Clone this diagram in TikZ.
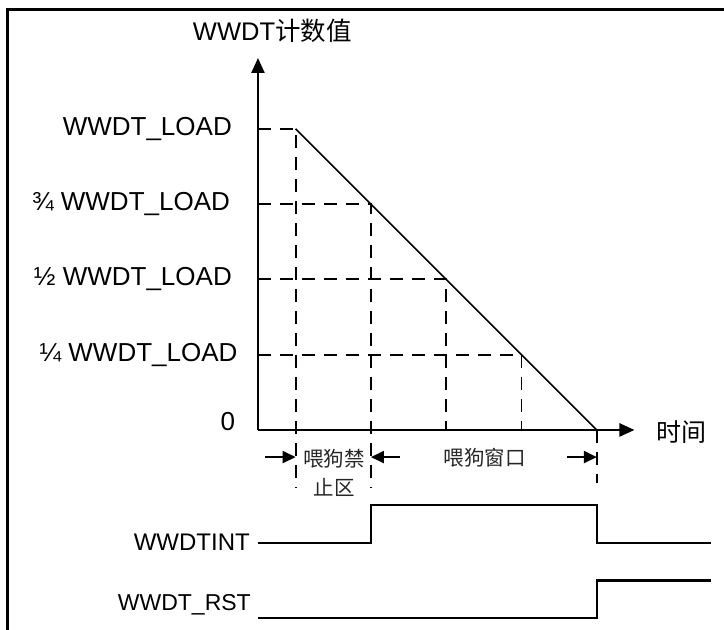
\documentclass[tikz,border=0pt]{standalone}
\usepackage{fontspec}
\setmainfont{Liberation Sans}
\newfontfamily\cjk{Noto Sans CJK SC}
\usetikzlibrary{arrows.meta}
\tikzset{
  frameline/.style={line width=3pt},
  axis/.style={line width=2.4pt},
  guide/.style={line width=1.9pt, dash pattern=on 13pt off 9pt},
  ramp/.style={line width=1.6pt},
  sig/.style={line width=2.4pt},
  dimarrow/.style={line width=2pt, -{Triangle[length=13pt,width=12pt]}},
  lbl/.style={font=\fontsize{26}{30}\selectfont, inner sep=0pt},
  sigtext/.style={font=\fontsize{24}{28}\selectfont, inner sep=0pt},
  zonetext/.style={font=\cjk\fontsize{20.5}{29}\selectfont, text=black!85, inner sep=0pt, align=center}
}
\begin{document}
\begin{tikzpicture}[x=75.3pt, y=75.3pt, >={Triangle[length=15pt,width=13pt]}]
  \useasboundingbox (-3.426,-2.656) rectangle (6.189,5.710);
  \draw[frameline] (-3.327,-2.7) -- (-3.327,5.578) -- (6.25,5.578);

  \coordinate (O) at (0,0);
  \coordinate (Ytip) at (0,4.94);
  \coordinate (Xtip) at (5,0);
  \draw[axis,->] (O) -- (Ytip);
  \draw[axis,->] (O) -- (Xtip);
  \node[lbl, font=\fontsize{25.5}{30}\selectfont] (ytitle) at (0.19,5.30) {WWDT{\cjk 计数值}};
  \node[lbl, font=\fontsize{25}{30}\selectfont] (xtitle) at (5.62,-0.03) {\cjk 时间};
  \node[lbl] (zero) at (-0.40,0.106) {0};

  \coordinate (P4) at (0.5,4);
  \coordinate (P3) at (1.5,3);
  \coordinate (P2) at (2.5,2);
  \coordinate (P1) at (3.5,1);
  \coordinate (P0) at (4.5,0);
  \coordinate (Dlow) at (0,-0.77);
  \coordinate (Dend) at (0,-0.70);

  \draw[ramp] (P4) -- (P0);
  \draw[guide] (O |- P4) -- (P4) -- (P4 |- Dlow);
  \draw[guide] (O |- P3) -- (P3) -- (P3 |- Dlow);
  \draw[guide] (O |- P2) -- (P2) -- (P2 |- O);
  \draw[guide] (O |- P1) -- (P1) -- (P1 |- O);
  \draw[guide] (P0) -- (P0 |- Dend);

  \node[lbl, anchor=east] (load4) at (-0.345,4) {WWDT\_LOAD};
  \node[lbl, anchor=east] (load3) at (-0.37,3) {¾ WWDT\_LOAD};
  \node[lbl, anchor=east] (load2) at (-0.345,2) {½ WWDT\_LOAD};
  \node[lbl, anchor=east] (load1) at (-0.27,1) {¼ WWDT\_LOAD};

  \coordinate (a1) at (0.09,-0.36);
  \coordinate (a2) at (1.89,-0.36);
  \coordinate (a3) at (4.10,-0.36);
  \draw[dimarrow] (a1) -- (a1 -| P4);
  \draw[dimarrow] (a2) -- (a2 -| P3);
  \draw[dimarrow] (a3) -- (a3 -| P0);
  \node[zonetext] (forbid) at (1.01,-0.57) {喂狗禁\\止区};
  \node[zonetext] (window) at (3.01,-0.37) {喂狗窗口};

  \coordinate (int0) at (0,-1.5);
  \coordinate (rst0) at (0,-2.5);
  \draw[sig] (int0) -| (1.5,-1.0) -| (4.5,-1.5) -- (6.02,-1.5);
  \draw[sig] (rst0) -| (4.5,-2.0) -- (6.02,-2.0);
  \node[sigtext, anchor=east] (wwdtint) at (-0.106,-1.487) {WWDTINT};
  \node[sigtext, anchor=east, font=\fontsize{23}{28}\selectfont] (wwdtrst) at (-0.093,-2.324) {WWDT\_RST};
\end{tikzpicture}
\end{document}
